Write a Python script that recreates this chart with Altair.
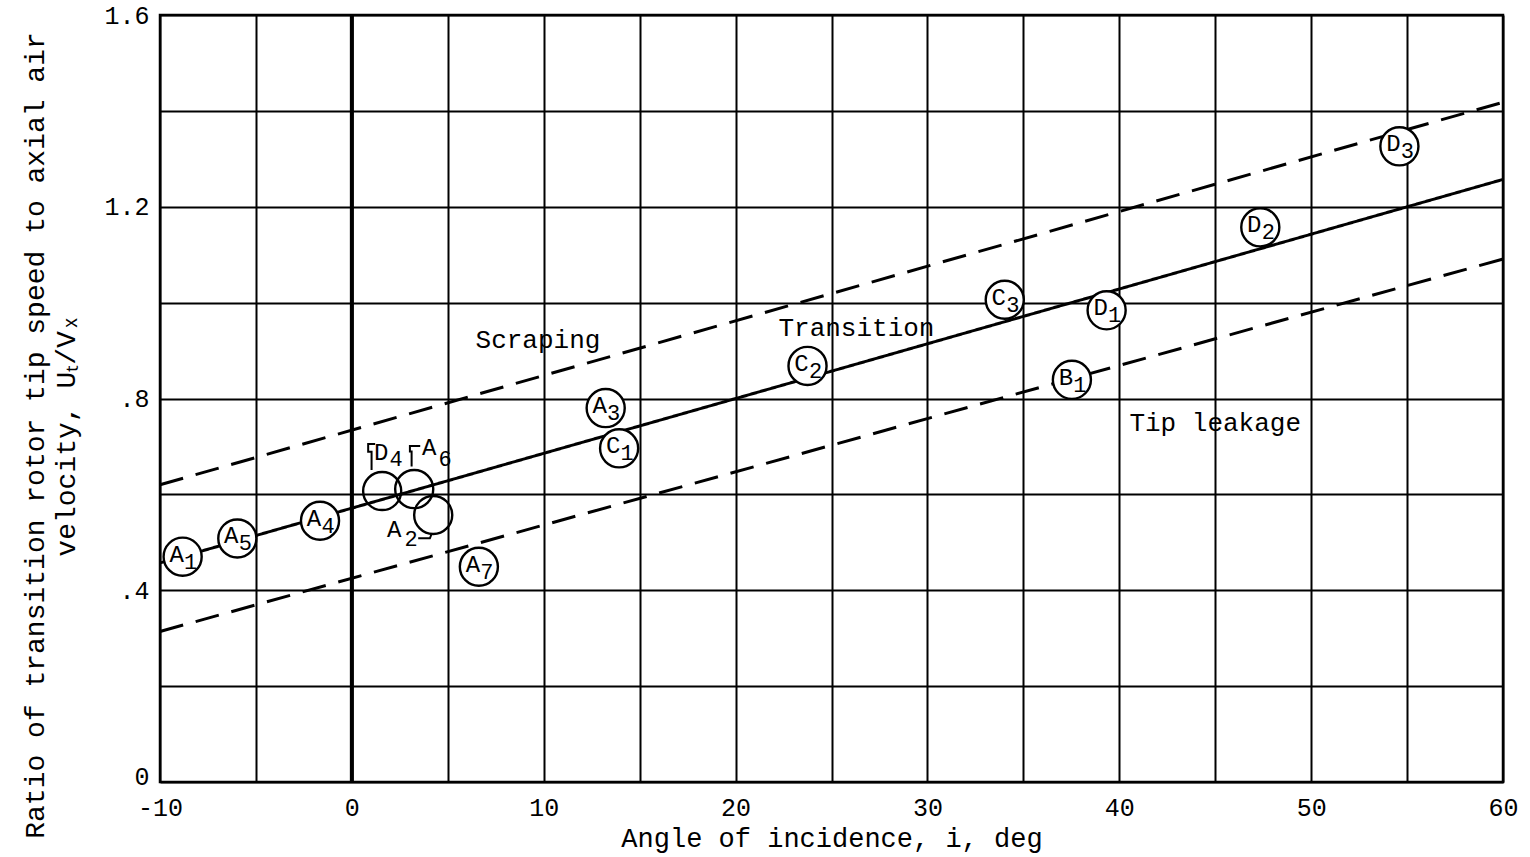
import altair as alt
import pandas as pd

FONT = "Liberation Mono"

# ---- data ----
pt_letter = ["A", "A", "A", "D", "A", "A", "A", "A", "C", "C", "C", "D", "B", "D", "D"]
pt_sub = ["1", "5", "4", "4", "6", "2", "7", "3", "1", "2", "3", "1", "1", "2", "3"]
pt_x = [-8.82, -5.97, -1.66, 1.58, 3.25, 4.24, 6.62, 13.23, 13.93, 23.75, 34.03, 39.34, 37.53, 47.35, 54.6]
pt_y = [0.470, 0.508, 0.545, 0.607, 0.611, 0.557, 0.449, 0.780, 0.696, 0.868, 1.006, 0.984, 0.839, 1.157, 1.326]
outside = ["D4", "A6", "A2"]  # points whose labels sit outside the circle

line_kind = ["Transition", "Scraping", "Tip leakage"]
line_x = [-10, 60]
line_y = {"Transition": [0.457, 1.257], "Scraping": [0.620, 1.418], "Tip leakage": [0.314, 1.091]}
line_style = {"Transition": "solid", "Scraping": "dashed", "Tip leakage": "dashed"}

ann_text = ["Scraping", "Transition", "Tip leakage"]
ann_x = [9.7, 26.3, 45.0]
ann_y = [0.922, 0.947, 0.749]

x_ticks = list(range(-10, 65, 5))
y_ticks = [i / 5 for i in range(9)]

# ---- tables ----
pts = pd.DataFrame({"letter": pt_letter, "sub": pt_sub, "x": pt_x, "y": pt_y})
pts["name"] = pts["letter"] + pts["sub"]
pts["inside"] = ~pts["name"].isin(outside)

rows = []
for k in line_kind:
    for xx, yy in zip(line_x, line_y[k]):
        rows.append({"kind": k, "x": xx, "y": yy, "style": line_style[k]})
lines = pd.DataFrame(rows)

ann = pd.DataFrame({"text": ann_text, "x": ann_x, "y": ann_y})

# pixel scale of the plot
W, H = 1343, 767
PX_X = W / 70.0
PX_Y = H / 1.6

# label offsets (px) for outside labels: (letter dx, dy), (digit dx, dy)
label_off = {"D4": ((-1, -38), (14, -32)), "A6": ((15, -41), (31, -30)), "A2": ((-39, 15), (-22, 24))}
# leader bracket offsets in px relative to the circle centre
bracket_off = {
    "D4": [(-10.6, -21), (-10.6, -39.3), (-14, -39.3), (-14, -47), (-7, -47)],
    "A6": [(-2.6, -22.6), (-2.6, -37.6), (-4.3, -37.6), (-4.3, -43), (6, -43)],
    "A2": [(-15, 23.3), (-3.3, 23.3), (-1.6, 19)],
}
brows = []
for name, offs in bracket_off.items():
    r = pts[pts["name"] == name].iloc[0]
    for i, (dx, dy) in enumerate(offs):
        brows.append({"id": name, "o": i, "x": r["x"] + dx / PX_X, "y": r["y"] - dy / PX_Y})
brackets = pd.DataFrame(brows)

xscale = alt.Scale(domain=[-10, 60], nice=False, zero=False)
yscale = alt.Scale(domain=[0, 1.6], nice=False, zero=False)

xaxis = alt.Axis(
    values=x_ticks,
    labelExpr="datum.value % 10 == 0 ? '' + datum.value : ''",
    grid=True, gridColor="black", gridWidth=2, gridOpacity=1,
    ticks=False, domain=False, labelFlush=False, labelOverlap=False,
    labelFont=FONT, labelFontSize=25, labelColor="black", labelPadding=13,
    title="Angle of incidence, i, deg",
    titleFont=FONT, titleFontSize=27, titleFontWeight="normal", titleColor="black",
    titleX=W / 2, titleY=56, titleBaseline="middle", titleAlign="center",
)
yaxis = alt.Axis(
    values=y_ticks,
    labelExpr="datum.value == 0 ? '0' : (round(datum.value*10) % 4 == 0 ? (datum.value < 1 ? '.' + round(datum.value*10) : format(datum.value, '.1f')) : '')",
    grid=True, gridColor="black", gridWidth=2, gridOpacity=1,
    ticks=False, domain=False, labelFlush=False, labelOverlap=False,
    labelOffset={"condition": {"test": "datum.value == 0", "value": -6}, "value": 0},
    labelFont=FONT, labelFontSize=25, labelColor="black", labelPadding=11,
    title=["Ratio of transition rotor tip speed to axial air", "velocity, Uₜ/Vₓ"],
    titleFont=FONT, titleFontSize=28, titleFontWeight="normal", titleColor="black",
    titleAngle=-90, titleX=-125, titleY=420, titleBaseline="middle", titleAlign="center",
    titleLineHeight=31,
)

enc = dict(x=alt.X("x:Q", scale=xscale, axis=xaxis), y=alt.Y("y:Q", scale=yscale, axis=yaxis))

line_layer = alt.Chart(lines).mark_line(color="black", strokeWidth=3).encode(
    detail="kind:N",
    strokeDash=alt.StrokeDash("style:N", scale=alt.Scale(domain=["solid", "dashed"], range=[[1, 0], [24, 13]]), legend=None),
    **enc,
)

zero_rule = alt.Chart(pd.DataFrame({"x": [0]})).mark_rule(color="black", strokeWidth=4).encode(
    x=alt.X("x:Q", scale=xscale, axis=xaxis)
)

circ_in = alt.Chart(pts).transform_filter("datum.inside").mark_circle(
    size=1450, fill="white", fillOpacity=1, stroke="black", strokeWidth=2.4, opacity=1
).encode(**enc)
circ_out = alt.Chart(pts).transform_filter("!datum.inside").mark_circle(
    size=1450, fillOpacity=0, stroke="black", strokeWidth=2.4, opacity=1
).encode(**enc)

let_in = alt.Chart(pts).transform_filter("datum.inside").mark_text(
    font=FONT, fontSize=24, color="black", dx=-6, dy=-2, baseline="middle", align="center"
).encode(text="letter:N", **enc)
sub_in = alt.Chart(pts).transform_filter("datum.inside").mark_text(
    font=FONT, fontSize=22, color="black", dx=8, dy=5, baseline="middle", align="center"
).encode(text="sub:N", **enc)

out_layers = []
for name, ((ldx, ldy), (sdx, sdy)) in label_off.items():
    out_layers.append(alt.Chart(pts).transform_filter(f"datum.name == '{name}'").mark_text(
        font=FONT, fontSize=24, color="black", dx=ldx, dy=ldy, baseline="middle", align="center"
    ).encode(text="letter:N", **enc))
    out_layers.append(alt.Chart(pts).transform_filter(f"datum.name == '{name}'").mark_text(
        font=FONT, fontSize=22, color="black", dx=sdx, dy=sdy, baseline="middle", align="center"
    ).encode(text="sub:N", **enc))

bracket_layer = alt.Chart(brackets).mark_line(color="black", strokeWidth=2).encode(
    detail="id:N", order="o:Q", **enc
)

ann_layer = alt.Chart(ann).mark_text(
    font=FONT, fontSize=26, color="black", baseline="middle", align="center"
).encode(text="text:N", **enc)

chart = alt.layer(
    line_layer, zero_rule, circ_in, circ_out, let_in, sub_in, *out_layers, bracket_layer, ann_layer
).properties(
    width=W, height=H,
    autosize=alt.AutoSizeParams(type="none"),
    padding={"left": 160, "top": 15, "right": 27, "bottom": 75},
    background="white",
).configure_view(stroke="black", strokeWidth=2.5)

chart.save("out.html", embed_options={"renderer": "svg", "actions": False})
